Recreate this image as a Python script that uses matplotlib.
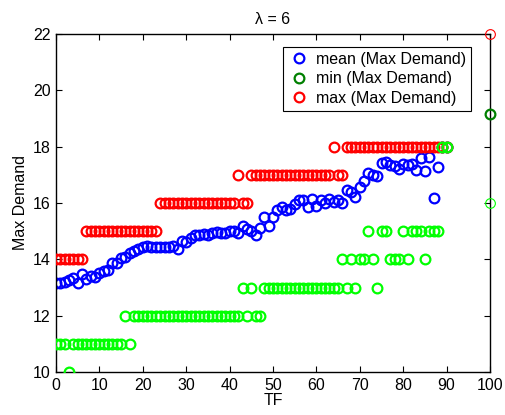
import matplotlib
matplotlib.use("Agg")
import matplotlib.pyplot as plt
import numpy as np

plt.rcParams['font.family'] = ['Liberation Sans', 'DejaVu Sans']

# TF positions 0..90
tf = np.arange(0, 91)

mean_vals = [13.17, 13.15, 13.2, 13.25, 13.33, 13.17, 13.48, 13.29, 13.41, 13.36,
             13.5, 13.6, 13.62, 13.88, 13.86, 14.04, 14.1, 14.24, 14.31, 14.36,
             14.43, 14.47, 14.45, 14.44, 14.45, 14.44, 14.45, 14.46, 14.36, 14.66,
             14.63, 14.75, 14.85, 14.86, 14.9, 14.85, 14.92, 14.98, 14.95, 14.92,
             15.0, 15.0, 14.95, 15.18, 15.08, 15.0, 14.86, 15.1, 15.5, 15.2,
             15.5, 15.74, 15.87, 15.74, 15.8, 15.95, 16.1, 16.1, 15.87, 16.15,
             15.9, 16.1, 16.0, 16.15, 16.05, 16.1, 15.99, 16.46, 16.4, 16.22,
             16.58, 16.78, 17.05, 17.0, 16.95, 17.41, 17.46, 17.35, 17.31, 17.2,
             17.4, 17.35, 17.4, 17.17, 17.58, 17.13, 17.64, 16.17, 17.29, 18.0,
             18.0]

min_vals = [11, 11, 11, 10, 11, 11, 11, 11, 11, 11,
            11, 11, 11, 11, 11, 11, 12, 11, 12, 12,
            12, 12, 12, 12, 12, 12, 12, 12, 12, 12,
            12, 12, 12, 12, 12, 12, 12, 12, 12, 12,
            12, 12, 12, 13, 12, 13, 12, 12, 13, 13,
            13, 13, 13, 13, 13, 13, 13, 13, 13, 13,
            13, 13, 13, 13, 13, 13, 14, 13, 14, 13,
            14, 14, 15, 14, 13, 15, 15, 14, 14, 14,
            15, 14, 15, 15, 15, 14, 15, 15, 15, 18,
            18]

max_vals = [14, 14, 14, 14, 14, 14, 14, 15, 15, 15,
            15, 15, 15, 15, 15, 15, 15, 15, 15, 15,
            15, 15, 15, 15, 16, 16, 16, 16, 16, 16,
            16, 16, 16, 16, 16, 16, 16, 16, 16, 16,
            16, 16, 17, 16, 16, 17, 17, 17, 17, 17,
            17, 17, 17, 17, 17, 17, 17, 17, 17, 17,
            17, 17, 17, 17, 18, 17, 17, 18, 18, 18,
            18, 18, 18, 18, 18, 18, 18, 18, 18, 18,
            18, 18, 18, 18, 18, 18, 18, 18, 18, 18,
            18]

# extra markers at TF = 100
end_tf = 100
end_min_dark = 19.15
end_max = 22
end_min = 16

fig = plt.figure(figsize=(5.06, 4.15), dpi=100)
ax = fig.add_axes([0.1107, 0.1036, 0.8577, 0.8145])

mk = dict(linestyle='none', marker='o', markersize=7, markerfacecolor='none',
          markeredgewidth=1.6)

ax.plot(tf, mean_vals, color='blue', label='mean (Max Demand)', zorder=2, **mk)
ax.plot([end_tf], [end_min_dark], color=(0, 0.5, 0), label='min (Max Demand)',
        clip_on=False, zorder=5, **mk)
ax.plot(tf, max_vals, color='red', label='max (Max Demand)', zorder=3, **mk)
ax.plot(tf, min_vals, color=(0, 1, 0), zorder=4, **mk)

thin = dict(mk)
thin['markeredgewidth'] = 0.8
ax.plot([end_tf], [end_max], color='red', clip_on=False, zorder=5, **thin)
ax.plot([end_tf], [end_min], color=(0, 1, 0), clip_on=False, zorder=5, **thin)

ax.set_xlim(0, 100)
ax.set_ylim(10, 22)
ax.set_xticks(np.arange(0, 101, 10))
ax.set_yticks(np.arange(10, 23, 2))
ax.tick_params(direction='in', top=True, right=True, labelsize=11.5, length=4,
               pad=4)
for s in ax.spines.values():
    s.set_linewidth(1.0)

ax.set_xlabel('TF', fontsize=11.5, labelpad=0)
ax.set_ylabel('Max Demand', fontsize=11.5, labelpad=3)
ax.set_title('\u03bb = 6', fontsize=11.5, pad=7)

leg = ax.legend(loc='upper right', fontsize=11.5, handletextpad=0.4,
                borderpad=0.3, labelspacing=0.28, fancybox=False,
                framealpha=1, edgecolor='black', handlelength=1.4,
                bbox_to_anchor=(0.975, 0.985))
leg.get_frame().set_linewidth(0.8)

fig.savefig('out.png', dpi=100)
